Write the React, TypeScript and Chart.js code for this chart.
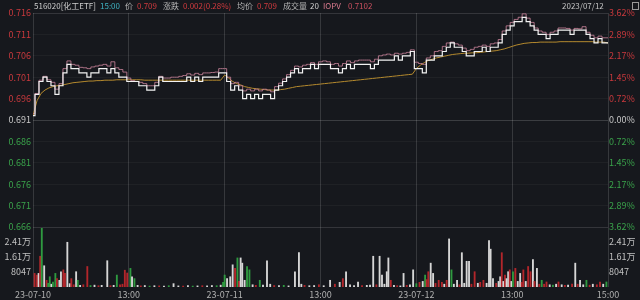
import React, { useEffect, useRef } from 'react';
import { Chart, registerables } from 'chart.js';
Chart.register(...registerables);

const BASE = 0.691;
const priceTicks = [0.716, 0.711, 0.706, 0.701, 0.696, 0.691, 0.686, 0.681, 0.676, 0.671, 0.666];
const volTicks = [8047, 16094, 24141];
const volTickLabels = ['8047', '1.61万', '2.41万'];
const volMax = 32188;
const xTickMinutes = [0, 120, 240, 360, 480, 600, 720];
const xTickLabels = ['23-07-10', '13:00', '23-07-11', '13:00', '23-07-12', '13:00', '15:00'];

// 5-minute samples per trading day (48 per day)
const day1Price = [0.692,0.697,0.700,0.701,0.700,0.699,0.697,0.699,0.702,0.704,0.703,0.703,0.702,0.702,0.701,0.702,0.702,0.703,0.703,0.702,0.703,0.702,0.701,0.701,0.700,0.700,0.700,0.699,0.699,0.698,0.698,0.699,0.701,0.700,0.700,0.700,0.700,0.700,0.700,0.701,0.700,0.701,0.700,0.701,0.701,0.701,0.701,0.702];
const day2Price = [0.702,0.700,0.698,0.699,0.698,0.696,0.697,0.696,0.697,0.696,0.697,0.697,0.696,0.698,0.699,0.700,0.701,0.702,0.703,0.702,0.703,0.703,0.704,0.703,0.704,0.704,0.704,0.703,0.703,0.702,0.703,0.704,0.703,0.704,0.704,0.704,0.704,0.703,0.704,0.705,0.705,0.705,0.705,0.706,0.705,0.706,0.706,0.707];
const day3Price = [0.703,0.703,0.702,0.705,0.705,0.706,0.706,0.707,0.708,0.709,0.708,0.708,0.707,0.706,0.706,0.707,0.707,0.708,0.707,0.708,0.708,0.709,0.711,0.712,0.713,0.714,0.714,0.715,0.714,0.713,0.712,0.711,0.711,0.710,0.711,0.711,0.712,0.712,0.712,0.711,0.712,0.712,0.712,0.711,0.710,0.709,0.710,0.709];
const closePrice = 0.709;

const day1Iopv = [0.6925,0.6972,0.7003,0.7012,0.7004,0.6998,0.6982,0.6995,0.7030,0.7048,0.7040,0.7038,0.7033,0.7032,0.7030,0.7034,0.7036,0.7038,0.7040,0.7036,0.7046,0.7032,0.7028,0.7022,0.7008,0.7002,0.7000,0.6998,0.6995,0.6990,0.6990,0.6998,0.7012,0.7008,0.7008,0.7010,0.7010,0.7012,0.7014,0.7018,0.7015,0.7019,0.7016,0.7020,0.7020,0.7021,0.7022,0.7030];
const day2Iopv = [0.7030,0.7010,0.6995,0.6998,0.6990,0.6978,0.6982,0.6978,0.6982,0.6978,0.6982,0.6980,0.6976,0.6988,0.6996,0.7006,0.7016,0.7026,0.7036,0.7034,0.7038,0.7040,0.7044,0.7040,0.7046,0.7048,0.7046,0.7040,0.7042,0.7036,0.7042,0.7048,0.7044,0.7048,0.7050,0.7050,0.7050,0.7046,0.7052,0.7060,0.7062,0.7064,0.7062,0.7066,0.7064,0.7066,0.7068,0.7074];
const day3Iopv = [0.7045,0.7042,0.7040,0.7055,0.7060,0.7070,0.7072,0.7082,0.7090,0.7092,0.7088,0.7085,0.7078,0.7072,0.7075,0.7080,0.7082,0.7085,0.7082,0.7088,0.7090,0.7098,0.7118,0.7130,0.7138,0.7145,0.7150,0.7158,0.7148,0.7138,0.7125,0.7118,0.7115,0.7110,0.7115,0.7118,0.7125,0.7125,0.7124,0.7120,0.7124,0.7123,0.7128,0.7115,0.7108,0.7102,0.7106,0.7102];
const closeIopv = 0.7102;

const day1Avg = [0.6920,0.6955,0.6972,0.6980,0.6985,0.6988,0.6990,0.6991,0.6993,0.6995,0.6997,0.6998,0.6999,0.7000,0.7001,0.7001,0.7002,0.7002,0.7003,0.7003,0.7003,0.7004,0.7004,0.7004,0.7004,0.7004,0.7004,0.7004,0.7003,0.7003,0.7003,0.7003,0.7003,0.7003,0.7003,0.7003,0.7003,0.7003,0.7003,0.7003,0.7003,0.7003,0.7003,0.7003,0.7003,0.7003,0.7003,0.7003];
const day2Avg = [0.7015,0.7008,0.7000,0.6995,0.6992,0.6988,0.6986,0.6984,0.6983,0.6982,0.6981,0.6980,0.6980,0.6980,0.6981,0.6982,0.6984,0.6986,0.6988,0.6989,0.6990,0.6991,0.6992,0.6993,0.6994,0.6995,0.6996,0.6997,0.6998,0.6999,0.7000,0.7001,0.7002,0.7003,0.7004,0.7005,0.7006,0.7007,0.7008,0.7009,0.7010,0.7011,0.7012,0.7013,0.7014,0.7015,0.7016,0.7017];
const day3Avg = [0.7030,0.7038,0.7044,0.7049,0.7052,0.7055,0.7057,0.7059,0.7061,0.7063,0.7064,0.7065,0.7066,0.7066,0.7067,0.7067,0.7068,0.7069,0.7070,0.7071,0.7072,0.7074,0.7076,0.7079,0.7082,0.7085,0.7087,0.7089,0.7090,0.7091,0.7091,0.7092,0.7092,0.7092,0.7092,0.7092,0.7093,0.7093,0.7093,0.7093,0.7093,0.7093,0.7093,0.7093,0.7093,0.7092,0.7092,0.7092];
const closeAvg = 0.709;

// volume bars: [minute index, volume, direction (1 up, -1 down, 0 flat)]
const volumeBars: [number, number, number][] = [
  [2,7300,1],[5,6400,1],[7,7300,0],[9,16500,1],[11,31500,-1],[14,11400,0],[17,3600,1],[19,2000,-1],[21,5500,-1],[23,1500,0],[25,2700,-1],[28,7300,-1],[30,4500,1],[33,3600,0],[35,8200,0],[38,9200,1],[40,7300,1],[43,24000,0],[46,1800,0],[48,4500,1],[51,1200,1],[54,8200,0],[56,3600,-1],[59,900,0],[63,1200,1],[68,11000,1],[72,800,-1],[77,1000,0],[82,700,1],[86,900,0],[93,14100,0],[97,700,1],[101,900,0],[105,6400,-1],[109,1200,1],[112,1500,1],[115,9000,1],[118,7500,1],[122,10000,-1],[124,5500,0],[127,4500,-1],[131,900,0],[135,600,1],[140,800,0],[146,500,-1],[152,700,0],[158,600,1],[164,500,0],[170,700,-1],[176,1800,0],[182,600,0],[188,500,1],[194,700,0],[200,500,-1],[206,600,0],[212,700,1],[218,600,0],[224,800,0],[230,700,-1],[235,1000,0],[238,2500,-1],
  [240,6400,-1],[243,4500,0],[247,5500,0],[250,11900,0],[253,10000,1],[256,15600,-1],[258,3000,1],[260,15600,0],[262,12800,0],[265,3600,0],[268,11000,-1],[271,9200,-1],[275,1200,0],[279,900,1],[284,3600,-1],[288,1000,0],[293,14100,0],[297,1500,0],[302,800,1],[308,700,0],[314,900,-1],[320,600,0],[328,8200,0],[333,18400,0],[336,1500,0],[340,900,1],[346,700,0],[352,800,0],[358,1200,1],[364,700,0],[372,3600,0],[378,1500,1],[384,2500,0],[388,4500,1],[392,8200,0],[397,1200,0],[402,800,0],[407,2700,0],[412,700,1],[418,900,0],[422,1000,0],[426,16500,0],[430,1200,1],[434,16500,0],[437,6400,0],[440,1500,0],[443,8200,0],[445,15600,0],[448,3600,1],[452,900,0],[456,700,1],[460,600,0],[464,7300,0],[468,900,1],[472,1200,0],[476,9200,0],
  [480,1800,-1],[484,2500,1],[488,3000,0],[491,6400,-1],[493,4000,1],[495,8200,1],[498,12800,0],[501,7300,0],[504,2000,1],[508,3600,1],[512,2500,1],[515,1500,0],[518,3600,1],[521,25800,0],[524,9200,-1],[527,1500,0],[531,3600,0],[534,1200,1],[537,18400,0],[540,2000,0],[543,13800,0],[546,13800,0],[549,1500,1],[553,8200,1],[557,2000,0],[560,2500,1],[564,3600,1],[568,2000,0],[571,24900,0],[573,20300,0],[576,4500,0],[580,2000,1],[583,3000,0],[585,5500,0],[587,18400,1],[589,3000,0],[591,6400,1],[593,4500,0],[595,8200,0],[597,9200,1],[599,3000,0],[601,8200,-1],[604,10000,1],[607,3000,0],[610,7300,0],[612,2500,1],[614,9200,1],[617,3000,0],[620,11000,1],[623,8200,1],[626,14700,0],[628,3000,1],[631,10000,0],[634,1500,1],[637,3600,-1],[640,1500,1],[643,2700,1],[647,1200,0],[651,1000,-1],[655,1500,0],[658,2700,1],[662,1200,0],[666,900,1],[670,1000,0],[675,1500,1],[679,12800,0],[682,1500,1],[685,3600,0],[689,1200,0],[693,3600,-1],[697,1000,1],[701,1500,0],[706,1200,1],[710,2700,1],[714,1500,0],[718,2700,-1],
];

const RED = '#c9393d';
const GREEN = '#3aa34b';
const NEUTRAL = '#c8c8c8';
const BG = '#16181d';
const FONT = "'Noto Sans CJK SC', 'Noto Sans', sans-serif";

function buildSeries(days: number[][], close: number) {
  const pts: { x: number; y: number }[] = [];
  days.forEach((arr, d) => arr.forEach((v, i) => pts.push({ x: d * 240 + i * 5, y: v })));
  pts.push({ x: 720, y: close });
  return pts;
}

function tickColor(v: number) {
  if (Math.abs(v - BASE) < 1e-6) return NEUTRAL;
  return v > BASE ? RED : GREEN;
}

const header: { text: string; left: number; color: string }[] = [
  { text: '516020[化工ETF]', left: 34, color: '#cfcfcf' },
  { text: '15:00', left: 100, color: '#3fb3c2' },
  { text: '价', left: 125, color: '#b4b4b4' },
  { text: '0.709', left: 137, color: '#d03a3e' },
  { text: '涨跌', left: 163, color: '#b4b4b4' },
  { text: '0.002(0.28%)', left: 183, color: '#d03a3e' },
  { text: '均价', left: 237, color: '#b4b4b4' },
  { text: '0.709', left: 257, color: '#d03a3e' },
  { text: '成交量', left: 283, color: '#b4b4b4' },
  { text: '20', left: 310, color: '#d0d0d0' },
  { text: 'IOPV', left: 323, color: '#d97a8e' },
  { text: '0.7102', left: 348, color: '#c9505f' },
  { text: '2023/07/12', left: 562, color: '#c4c4c4' },
];

export default function App() {
  const ref = useRef<HTMLCanvasElement>(null);
  useEffect(() => {
    if (!ref.current) return;
    const tickFont = { family: FONT, size: 9 };
    const chart = new Chart(ref.current, {
      type: 'line',
      data: {
        datasets: [
          {
            type: 'line',
            data: buildSeries([day1Price, day2Price, day3Price], closePrice),
            borderColor: '#f2f2f2',
            borderWidth: 1.2,
            pointRadius: 0,
            stepped: 'middle',
            yAxisID: 'y',
            order: 1,
          },
          {
            type: 'line',
            data: buildSeries([day1Iopv, day2Iopv, day3Iopv], closeIopv),
            borderColor: 'rgba(196,128,150,0.85)',
            borderWidth: 1,
            pointRadius: 0,
            stepped: 'middle',
            yAxisID: 'y',
            order: 2,
          },
          {
            type: 'line',
            data: buildSeries([day1Avg, day2Avg, day3Avg], closeAvg),
            borderColor: '#b58a2e',
            borderWidth: 1,
            pointRadius: 0,
            tension: 0,
            yAxisID: 'y',
            order: 3,
          },
          {
            type: 'bar',
            data: volumeBars.map(([m, v]) => ({ x: m, y: v })),
            backgroundColor: volumeBars.map(([, , d]) => (d > 0 ? '#b3262b' : d < 0 ? '#2f9a40' : '#d6d6d6')),
            barThickness: 1.2,
            grouped: false,
            yAxisID: 'yVol',
            order: 4,
          } as any,
        ],
      },
      options: {
        responsive: false,
        animation: false,
        events: [],
        layout: { padding: { top: 13, left: 0, right: 0, bottom: 0 } },
        plugins: { legend: { display: false }, tooltip: { enabled: false } },
        scales: {
          x: {
            type: 'linear',
            min: 0,
            max: 720,
            offset: false,
            position: 'bottom',
            afterBuildTicks: (s: any) => { s.ticks = xTickMinutes.map((v) => ({ value: v })); },
            afterFit: (s: any) => { s.height = 13; },
            ticks: {
              autoSkip: false,
              maxRotation: 0,
              padding: 2,
              color: '#b0b0b0',
              font: tickFont,
              callback: (_v: any, i: number) => xTickLabels[i],
            },
            grid: { color: 'rgba(255,255,255,0.14)', drawTicks: false, offset: false },
            border: { display: false },
          },
          y: {
            type: 'linear',
            position: 'left',
            stack: 'L',
            stackWeight: 214,
            weight: 2,
            min: 0.666,
            max: 0.716,
            afterBuildTicks: (s: any) => { s.ticks = priceTicks.map((v) => ({ value: v })); },
            afterFit: (s: any) => { s.width = 33; },
            ticks: {
              autoSkip: false,
              padding: 2,
              font: tickFont,
              color: (c: any) => tickColor(c.tick.value),
              callback: (v: any) => Number(v).toFixed(3),
            },
            grid: {
              drawTicks: false,
              color: (c: any) => {
                const v = c.tick.value;
                if (Math.abs(v - BASE) < 1e-6) return 'rgba(255,255,255,0.16)';
                if (Math.abs(v - 0.716) < 1e-6 || Math.abs(v - 0.666) < 1e-6) return 'rgba(255,255,255,0.13)';
                return 'rgba(255,255,255,0.04)';
              },
            },
            border: { display: false },
          },
          yVol: {
            type: 'linear',
            position: 'left',
            stack: 'L',
            stackWeight: 60,
            weight: 1,
            min: 0,
            max: volMax,
            afterBuildTicks: (s: any) => { s.ticks = volTicks.map((v) => ({ value: v })); },
            afterFit: (s: any) => { s.width = 33; },
            ticks: {
              autoSkip: false,
              padding: 2,
              font: tickFont,
              color: '#c0c0c0',
              callback: (_v: any, i: number) => volTickLabels[i],
            },
            grid: { display: false, drawTicks: false },
            border: { display: false },
          },
          yR: {
            type: 'linear',
            position: 'right',
            stack: 'R',
            stackWeight: 214,
            weight: 1,
            min: 0.666,
            max: 0.716,
            afterBuildTicks: (s: any) => { s.ticks = priceTicks.map((v) => ({ value: v })); },
            afterFit: (s: any) => { s.width = 32; },
            ticks: {
              autoSkip: false,
              padding: 1,
              font: tickFont,
              color: (c: any) => tickColor(c.tick.value),
              callback: (v: any) => (Math.abs((Number(v) - BASE) / BASE) * 100).toFixed(2) + '%',
            },
            grid: { display: false, drawTicks: false },
            border: { display: false },
          },
          yVolR: {
            type: 'linear',
            position: 'right',
            stack: 'R',
            stackWeight: 60,
            weight: 2,
            min: 0,
            max: volMax,
            afterBuildTicks: (s: any) => { s.ticks = volTicks.map((v) => ({ value: v })); },
            afterFit: (s: any) => { s.width = 32; },
            ticks: {
              autoSkip: false,
              padding: 1,
              font: tickFont,
              color: '#c0c0c0',
              callback: (_v: any, i: number) => volTickLabels[i],
            },
            grid: { display: false, drawTicks: false },
            border: { display: false },
          },
        } as any,
      },
    });
    return () => chart.destroy();
  }, []);

  return (
    <div style={{ position: 'fixed', left: 0, top: 0, width: 640, height: 300, background: BG, overflow: 'hidden' }}>
      <canvas ref={ref} width={640} height={300} style={{ position: 'absolute', left: 0, top: 0 }} />
      {header.map((h, i) => (
        <span
          key={i}
          style={{
            position: 'absolute',
            left: h.left,
            top: 0,
            fontFamily: FONT,
            fontSize: 8,
            lineHeight: '12px',
            color: h.color,
            whiteSpace: 'nowrap',
          }}
        >
          {h.text}
        </span>
      ))}
      <div style={{ position: 'absolute', left: 632, top: 2, width: 7, height: 8, border: '1px solid #9a9a9a', boxSizing: 'border-box' }} />
    </div>
  );
}
